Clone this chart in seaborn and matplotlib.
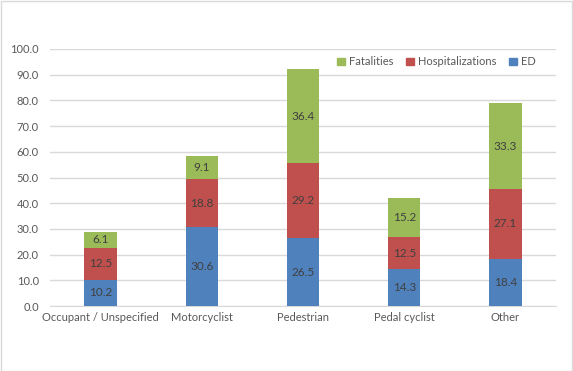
import numpy as np
import pandas as pd
import seaborn as sns
import matplotlib.pyplot as plt
from matplotlib.patches import Patch, Rectangle

categories = ['Occupant / Unspecified', 'Motorcyclist', 'Pedestrian', 'Pedal cyclist', 'Other']
ed = [10.2, 30.6, 26.5, 14.3, 18.4]
hosp = [12.5, 18.8, 29.2, 12.5, 27.1]
fatal = [6.1, 9.1, 36.4, 15.2, 33.3]

c_ed = '#4F81BD'
c_hosp = '#C0504D'
c_fatal = '#9BBB59'

sns.set_style('white')
plt.rcParams['font.family'] = ['Lato', 'DejaVu Sans']

df = pd.DataFrame({'category': categories, 'ED': ed,
                   'Hospitalizations': hosp, 'Fatalities': fatal})
df['h_top'] = df['ED'] + df['Hospitalizations']
df['total'] = df['h_top'] + df['Fatalities']

fig = plt.figure(figsize=(5.73, 3.71), dpi=100)
ax = fig.add_axes([0.0873, 0.175, 0.883, 0.693])

# stacked bars drawn back to front as cumulative heights
sns.barplot(data=df, x='category', y='total', color=c_fatal, width=0.32,
            saturation=1, linewidth=0, ax=ax, zorder=2)
sns.barplot(data=df, x='category', y='h_top', color=c_hosp, width=0.32,
            saturation=1, linewidth=0, ax=ax, zorder=3)
sns.barplot(data=df, x='category', y='ED', color=c_ed, width=0.32,
            saturation=1, linewidth=0, ax=ax, zorder=4)

for i, row in df.iterrows():
    for lo, val in [(0, row['ED']), (row['ED'], row['Hospitalizations']),
                    (row['h_top'], row['Fatalities'])]:
        ax.text(i, lo + val / 2, f'{val:.1f}', ha='center', va='center',
                fontsize=8.5, color='#404040', zorder=5)

ax.set_ylim(0, 100)
ax.set_xlim(-0.5, 4.5)
ax.set_yticks(np.arange(0, 101, 10))
ax.set_yticklabels([f'{v:.1f}' for v in np.arange(0, 101, 10)])
ax.yaxis.grid(True, color='#D9D9D9', linewidth=1, zorder=0)
ax.set_axisbelow(True)
ax.set_xlabel('')
ax.set_ylabel('')
for s in ['top', 'right', 'left']:
    ax.spines[s].set_visible(False)
ax.spines['bottom'].set_color('#D9D9D9')
ax.tick_params(axis='both', colors='#595959', labelsize=8, length=0)
ax.tick_params(axis='y', pad=8)
ax.tick_params(axis='x', pad=4)
ax.set_xticks(np.arange(-0.5, 5, 1), minor=True)
ax.tick_params(axis='x', which='minor', length=5, color='#D9D9D9')

handles = [Patch(color=c_fatal, label='Fatalities'),
           Patch(color=c_hosp, label='Hospitalizations'),
           Patch(color=c_ed, label='ED')]
leg = ax.legend(handles=handles, ncol=3, frameon=False, loc='upper right',
                bbox_to_anchor=(0.98, 1.01), fontsize=8, handlelength=0.7,
                handleheight=0.7, handletextpad=0.4, columnspacing=1.1)
for t in leg.get_texts():
    t.set_color('#595959')

fig.patches.append(Rectangle((0.001, 0.001), 0.997, 0.997, transform=fig.transFigure,
                             fill=False, edgecolor='#D9D9D9', linewidth=1))

fig.savefig('out.png', dpi=100)
